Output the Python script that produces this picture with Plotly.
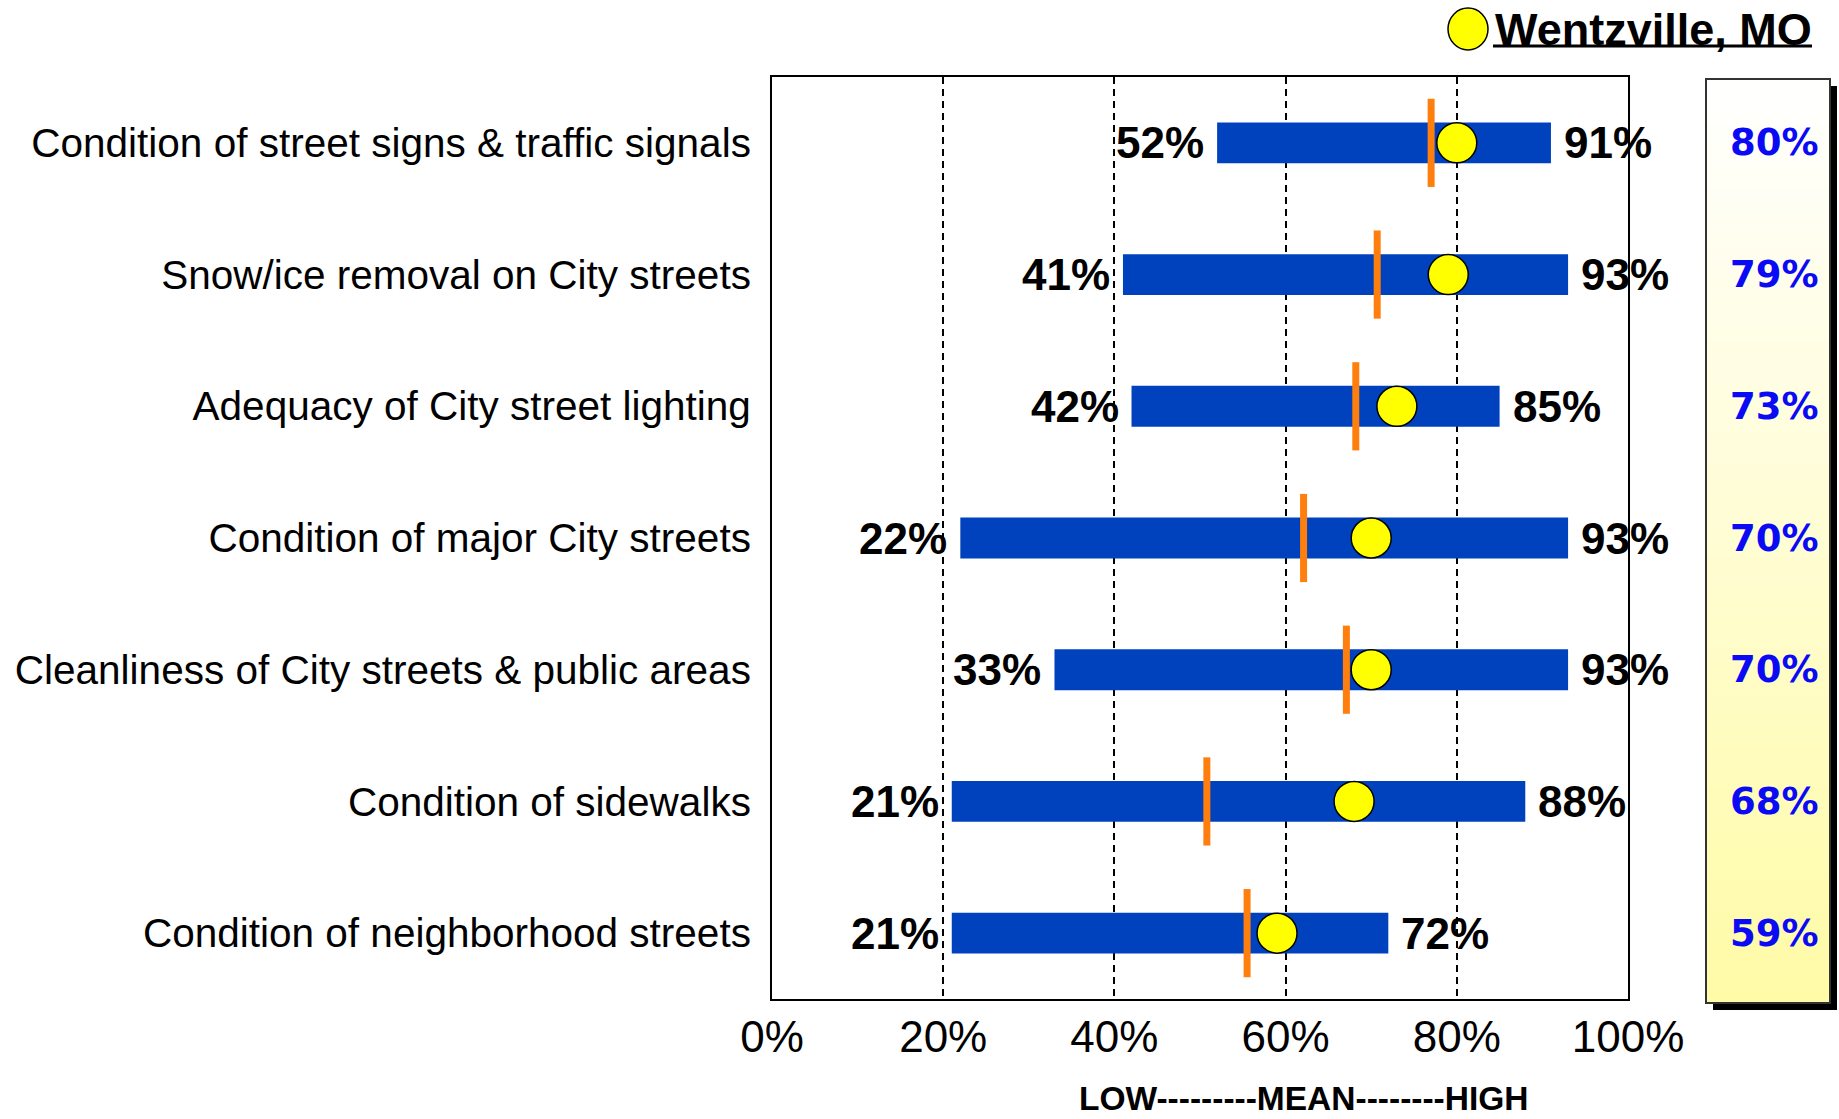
import plotly.graph_objects as go

# ---- data -------------------------------------------------------------
categories = [
    "Condition of street signs & traffic signals",
    "Snow/ice removal on City streets",
    "Adequacy of City street lighting",
    "Condition of major City streets",
    "Cleanliness of City streets & public areas",
    "Condition of sidewalks",
    "Condition of neighborhood streets",
]
low = [52, 41, 42, 22, 33, 21, 21]
high = [91, 93, 85, 93, 93, 88, 72]
mean = [77, 70.7, 68.2, 62.1, 67.1, 50.8, 55.5]
wentzville = [80, 79, 73, 70, 70, 68, 59]
x_ticks = [0, 20, 40, 60, 80, 100]
x_tick_text = ["0%", "20%", "40%", "60%", "80%", "100%"]
city_name = "Wentzville, MO"
scale_caption = "LOW---------MEAN--------HIGH"

# ---- page geometry (pixels) -------------------------------------------
W, H = 1839, 1119
L, R, T, B = 772, 1628, 77, 999
PW, PH = R - L, B - T


def fx(p):
    return (p - L) / PW


def fy(p):
    return 1 - (p - T) / PH


BAR_BLUE = "#0042BE"
MEAN_ORANGE = "#FF7F0E"
FONT = "Arial, Liberation Sans, sans-serif"

fig = go.Figure()

# range bars (low -> high)
fig.add_trace(go.Bar(
    y=categories,
    x=[h - l for l, h in zip(low, high)],
    base=low,
    orientation="h",
    width=0.31,
    marker=dict(color=BAR_BLUE, line=dict(width=0)),
    hoverinfo="skip",
))

# mean ticks
fig.add_trace(go.Scatter(
    y=categories,
    x=mean,
    mode="markers",
    marker=dict(symbol="line-ns", size=63,
                line=dict(width=7, color=MEAN_ORANGE)),
    hoverinfo="skip",
))

# city score
fig.add_trace(go.Scatter(
    y=categories,
    x=wentzville,
    mode="markers",
    marker=dict(symbol="circle", size=40, color="#FFFF00",
                line=dict(width=1.5, color="black")),
    hoverinfo="skip",
))

annotations = []
for cat, lo, hi, val in zip(categories, low, high, wentzville):
    annotations.append(dict(
        x=lo, y=cat, xref="x", yref="y", text=f"<b>{lo}%</b>",
        xanchor="right", yanchor="middle", xshift=-11, showarrow=False,
        font=dict(family=FONT, size=44, color="black"),
    ))
    annotations.append(dict(
        x=hi, y=cat, xref="x", yref="y", text=f"<b>{hi}%</b>",
        xanchor="left", yanchor="middle", xshift=11, showarrow=False,
        font=dict(family=FONT, size=44, color="black"),
    ))
    annotations.append(dict(
        x=fx(1774), y=cat, xref="paper", yref="y", text=f"<b>{val}%</b>",
        xanchor="center", yanchor="middle", showarrow=False,
        font=dict(family="DejaVu Sans, Verdana, sans-serif", size=37,
                  color="#0A0AF5"),
    ))

# axis caption
annotations.append(dict(
    x=fx(1304), y=fy(1098), xref="paper", yref="paper",
    text=f"<b>{scale_caption}</b>", xanchor="center", yanchor="middle",
    showarrow=False, font=dict(family=FONT, size=33.5, color="black"),
))

# legend label
annotations.append(dict(
    x=fx(1493), y=fy(29), xref="paper", yref="paper",
    text=f"<b>{city_name}</b>", xanchor="left", yanchor="middle",
    showarrow=False, font=dict(family=FONT, size=45, color="black"),
))

shapes = []
# legend symbol and underline
shapes.append(dict(
    type="circle", xref="paper", yref="paper",
    xsizemode="pixel", ysizemode="pixel",
    xanchor=fx(1468), yanchor=fy(29),
    x0=-20, x1=20, y0=-21, y1=21,
    fillcolor="#FFFF00", line=dict(color="black", width=1.5),
))
shapes.append(dict(
    type="line", xref="paper", yref="paper",
    x0=fx(1493), x1=fx(1812), y0=fy(46), y1=fy(46),
    line=dict(color="black", width=3),
))

# side panel: drop shadow, gradient fill, frame
p_left, p_right, p_top, p_bottom = 1706, 1830, 79, 1003
shapes.append(dict(
    type="rect", xref="paper", yref="paper",
    x0=fx(p_left + 7), x1=fx(p_right + 7),
    y0=fy(p_top + 7), y1=fy(p_bottom + 7),
    fillcolor="black", line=dict(width=0),
))
steps = 60
top_rgb = (255, 255, 255)
bot_rgb = (255, 251, 166)
for i in range(steps):
    t = (i + 0.5) / steps
    c = tuple(round(a + (b - a) * t) for a, b in zip(top_rgb, bot_rgb))
    y0 = p_top + (p_bottom - p_top) * i / steps
    y1 = min(p_bottom, p_top + (p_bottom - p_top) * (i + 1) / steps + 3)
    shapes.append(dict(
        type="rect", xref="paper", yref="paper",
        x0=fx(p_left), x1=fx(p_right), y0=fy(y0), y1=fy(y1),
        fillcolor=f"rgb{c}", line=dict(width=0),
    ))
shapes.append(dict(
    type="rect", xref="paper", yref="paper",
    x0=fx(p_left), x1=fx(p_right), y0=fy(p_top), y1=fy(p_bottom),
    fillcolor="rgba(0,0,0,0)", line=dict(color="#333333", width=2),
))

fig.update_layout(
    width=W, height=H,
    margin=dict(l=L, r=W - R, t=T, b=H - B, autoexpand=False),
    paper_bgcolor="white", plot_bgcolor="white",
    showlegend=False,
    annotations=annotations,
    shapes=shapes,
    font=dict(family=FONT, color="black"),
)
fig.update_xaxes(
    range=[0, 100], tickvals=x_ticks, ticktext=x_tick_text,
    showgrid=True, gridcolor="black", gridwidth=1.5, griddash="7px,5px",
    zeroline=False, showline=True, linecolor="black", linewidth=2,
    mirror=True, ticks="", ticklabelstandoff=-2, automargin=False,
    tickfont=dict(family=FONT, size=44, color="black"),
    fixedrange=True,
)
fig.update_yaxes(
    range=[len(categories) - 0.5, -0.5], showgrid=False, zeroline=False,
    showline=True, linecolor="black", linewidth=2, mirror=True,
    ticks="", ticklabelstandoff=11, automargin=False,
    tickfont=dict(family=FONT, size=40.5, color="black"),
    fixedrange=True,
)

fig.write_html("out.html")
